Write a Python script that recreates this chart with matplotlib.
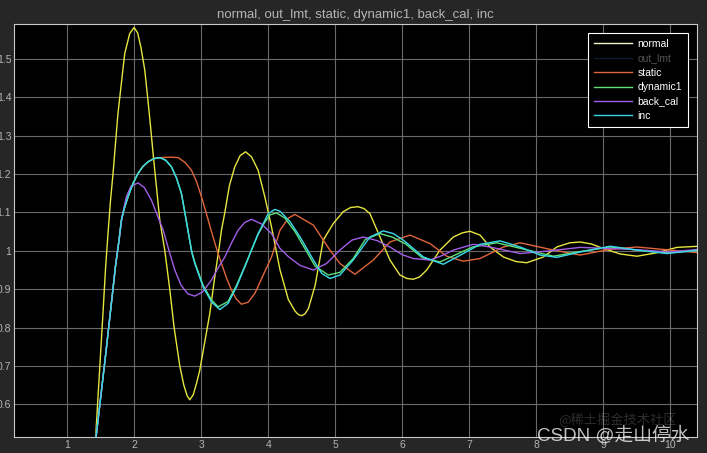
import matplotlib.pyplot as plt

# values
normal_t = [1.424, 1.459, 1.50, 1.533, 1.57, 1.608, 1.645, 1.683, 1.72, 1.757, 1.81, 1.858, 1.932, 1.997,
            2.05, 2.10, 2.157, 2.20, 2.24, 2.281, 2.331, 2.381, 2.455, 2.53, 2.595, 2.68, 2.74, 2.79, 2.829,
            2.88, 2.93, 2.978, 3.05, 3.128, 3.20, 3.26, 3.302, 3.352, 3.42, 3.501, 3.58, 3.661, 3.75, 3.849,
            3.95, 4.049, 4.176, 4.30, 4.40, 4.45, 4.498, 4.55, 4.60, 4.70, 4.821, 4.970, 5.119, 5.23, 5.343,
            5.43, 5.518, 5.668, 5.817, 5.966, 6.07, 6.165, 6.26, 6.365, 6.564, 6.763, 6.90, 7.012, 7.162,
            7.311, 7.51, 7.70, 7.859, 8.107, 8.307, 8.50, 8.656, 8.82, 9.005, 9.25, 9.503, 9.80, 10.10, 10.43]
normal_y = [0.515, 0.620, 0.74, 0.837, 0.95, 1.045, 1.13, 1.201, 1.28, 1.358, 1.44, 1.514, 1.566, 1.582,
            1.568, 1.53, 1.471, 1.40, 1.33, 1.254, 1.167, 1.080, 1.002, 0.900, 0.800, 0.700, 0.650, 0.622, 0.612,
            0.625, 0.655, 0.689, 0.76, 0.837, 0.93, 1.00, 1.054, 1.100, 1.17, 1.219, 1.248, 1.258, 1.245, 1.210,
            1.14, 1.062, 0.950, 0.873, 0.843, 0.834, 0.831, 0.836, 0.850, 0.91, 1.028, 1.071, 1.102, 1.113, 1.115,
            1.110, 1.097, 1.036, 0.976, 0.937, 0.928, 0.926, 0.932, 0.950, 1.002, 1.036, 1.047, 1.051, 1.041,
            1.010, 0.984, 0.972, 0.969, 0.984, 1.010, 1.021, 1.023, 1.018, 1.006, 0.992, 0.986, 0.995, 1.009, 1.012]

inc_t = [1.43, 1.50, 1.58, 1.65, 1.72, 1.773, 1.808, 1.85, 1.907, 1.98, 2.057, 2.13, 2.206, 2.29, 2.381,
         2.47, 2.555, 2.63, 2.705, 2.76, 2.82, 2.86, 2.904, 3.028, 3.153, 3.277, 3.40, 3.526, 3.65, 3.75,
         3.849, 3.90, 4.0, 4.099, 4.176, 4.325, 4.475, 4.674, 4.80, 4.921, 5.07, 5.268, 5.518, 5.717, 5.866,
         6.016, 6.315, 6.613, 6.912, 7.162, 7.46, 7.759, 8.058, 8.307, 8.656, 9.104, 9.503, 9.952, 10.43]
inc_y = [0.515, 0.62, 0.74, 0.85, 0.96, 1.028, 1.080, 1.11, 1.141, 1.175, 1.202, 1.220, 1.232, 1.240, 1.243,
         1.236, 1.219, 1.19, 1.149, 1.095, 1.035, 0.995, 0.967, 0.906, 0.867, 0.847, 0.863, 0.906, 0.958, 1.002,
         1.045, 1.062, 1.097, 1.108, 1.103, 1.076, 1.036, 0.976, 0.941, 0.928, 0.937, 0.976, 1.036, 1.052, 1.045,
         1.028, 0.984, 0.965, 0.993, 1.017, 1.026, 1.010, 0.989, 0.983, 0.997, 1.012, 1.002, 0.993, 1.002]

# out_lmt is drawn in near-black navy and sits under inc in the original
out_lmt_t = list(inc_t)
out_lmt_y = list(inc_y)

dyn_t = [1.43, 1.50, 1.58, 1.65, 1.72, 1.773, 1.808, 1.85, 1.907, 1.98, 2.057, 2.13, 2.206, 2.29, 2.381,
         2.47, 2.555, 2.63, 2.705, 2.76, 2.82, 2.86, 2.904, 3.028, 3.153, 3.252, 3.40, 3.526, 3.65, 3.75,
         3.849, 3.95, 4.03, 4.124, 4.25, 4.40, 4.55, 4.70, 4.896, 5.07, 5.268, 5.45, 5.668, 5.85, 6.05,
         6.30, 6.564, 6.80, 7.05, 7.41, 7.80, 8.257, 8.65, 9.10, 9.55, 9.95, 10.43]
dyn_y = [0.515, 0.62, 0.74, 0.85, 0.96, 1.028, 1.080, 1.11, 1.141, 1.175, 1.202, 1.220, 1.232, 1.240, 1.243,
         1.236, 1.219, 1.19, 1.149, 1.095, 1.035, 0.997, 0.970, 0.910, 0.872, 0.854, 0.868, 0.910, 0.960, 1.002,
         1.043, 1.075, 1.094, 1.099, 1.085, 1.050, 1.005, 0.960, 0.937, 0.944, 0.980, 1.030, 1.045, 1.036, 1.018,
         0.982, 0.971, 0.990, 1.010, 1.021, 1.005, 0.986, 0.998, 1.010, 1.001, 0.995, 1.001]

back_t = [1.43, 1.50, 1.58, 1.65, 1.72, 1.773, 1.82, 1.88, 1.95, 2.057, 2.15, 2.256, 2.35, 2.43, 2.52,
          2.605, 2.70, 2.80, 2.903, 3.02, 3.153, 3.25, 3.352, 3.45, 3.551, 3.65, 3.751, 3.90, 4.049, 4.176,
          4.30, 4.475, 4.674, 4.87, 5.07, 5.25, 5.418, 5.62, 5.817, 6.0, 6.165, 6.415, 6.60, 6.763, 7.061,
          7.31, 7.759, 8.2, 8.656, 9.40, 10.0, 10.43]
back_y = [0.515, 0.62, 0.74, 0.85, 0.96, 1.028, 1.09, 1.14, 1.168, 1.177, 1.165, 1.132, 1.09, 1.055, 1.00,
          0.950, 0.910, 0.888, 0.882, 0.893, 0.924, 0.955, 0.984, 1.02, 1.054, 1.074, 1.082, 1.070, 1.045, 1.006,
          0.985, 0.962, 0.950, 0.967, 1.002, 1.028, 1.036, 1.027, 1.010, 0.990, 0.980, 0.976, 0.988, 1.002, 1.017,
          1.010, 0.993, 1.000, 1.009, 1.004, 0.997, 1.004]

static_t = [1.43, 1.50, 1.58, 1.65, 1.72, 1.773, 1.808, 1.85, 1.907, 1.98, 2.057, 2.13, 2.206, 2.30, 2.405,
            2.53, 2.654, 2.76, 2.854, 2.93, 3.003, 3.08, 3.153, 3.23, 3.302, 3.38, 3.451, 3.52, 3.601, 3.70,
            3.800, 3.92, 4.049, 4.176, 4.30, 4.398, 4.674, 4.921, 5.07, 5.294, 5.568, 5.817, 6.116, 6.414,
            6.664, 6.912, 7.162, 7.51, 7.759, 8.257, 8.656, 9.10, 9.503, 10.0, 10.43]
static_y = [0.515, 0.62, 0.74, 0.85, 0.96, 1.028, 1.080, 1.11, 1.141, 1.175, 1.202, 1.220, 1.232, 1.241, 1.243,
            1.244, 1.243, 1.23, 1.210, 1.18, 1.141, 1.095, 1.050, 1.005, 0.967, 0.928, 0.898, 0.875, 0.861, 0.866,
            0.889, 0.935, 0.984, 1.054, 1.085, 1.095, 1.067, 1.002, 0.967, 0.939, 0.976, 1.023, 1.041, 1.019,
            0.986, 0.973, 0.980, 1.010, 1.021, 1.002, 0.989, 1.004, 1.010, 1.002, 0.995]

plt.rcParams['font.family'] = ['Liberation Sans', 'Noto Sans CJK SC', 'DejaVu Sans']

fig = plt.figure(figsize=(7.07, 4.53), dpi=100, facecolor='#262626')
ax = fig.add_axes([14 / 707, 16 / 453, 683 / 707, 413 / 453])
ax.set_facecolor('black')

ax.plot(normal_t, normal_y, color='#e6e640', lw=1.0, label='normal')
ax.plot(out_lmt_t, out_lmt_y, color='#0d1b30', lw=1.0, label='out_lmt')
ax.plot(static_t, static_y, color='#e0663c', lw=1.0, label='static')
ax.plot(dyn_t, dyn_y, color='#5ee07a', lw=1.0, label='dynamic1')
ax.plot(back_t, back_y, color='#a35ee6', lw=1.0, label='back_cal')
ax.plot(inc_t, inc_y, color='#3ad8e6', lw=1.0, label='inc')

ax.set_xlim(0.205, 10.4)
ax.set_ylim(0.515, 1.591)
ax.set_xticks(range(1, 11))
ax.set_yticks([0.6, 0.7, 0.8, 0.9, 1.0, 1.1, 1.2, 1.3, 1.4, 1.5])
ax.set_yticklabels(['0.6', '0.7', '0.8', '0.9', '1', '1.1', '1.2', '1.3', '1.4', '1.5'])
ax.grid(True, color='#6a6a6a', lw=0.8)
ax.tick_params(length=0, pad=2, colors='#b4b4b4', labelsize=7.5)
for s in ax.spines.values():
    s.set_color('#c8c8c8')
    s.set_linewidth(0.8)

ax.set_title('normal, out_lmt, static, dynamic1, back_cal, inc', color='#b4b4b4', fontsize=9.5, pad=4)

leg = ax.legend(loc='upper right', fontsize=7.5, frameon=True, fancybox=False, framealpha=1,
                facecolor='black', edgecolor='white', handlelength=3.7, handletextpad=0.5,
                borderaxespad=0.9, labelspacing=0.42, borderpad=0.55)
leg.get_frame().set_linewidth(0.8)
for txt in leg.get_texts():
    txt.set_color('white')
leg.get_texts()[1].set_color('#555555')
leg.get_lines()[0].set_color('#f4f4c8')

# watermark
fig.text(0.79, 0.064, '@稀土掘金技术社区', color='white', alpha=0.18, fontsize=9.5,
         family=['Noto Sans CJK SC', 'DejaVu Sans'])
fig.text(0.76, 0.026, 'CSDN @走山停水', color='white', alpha=0.75, fontsize=13.5,
         family=['Liberation Sans', 'Noto Sans CJK SC'])

plt.savefig('out.png', dpi=100, facecolor=fig.get_facecolor())
